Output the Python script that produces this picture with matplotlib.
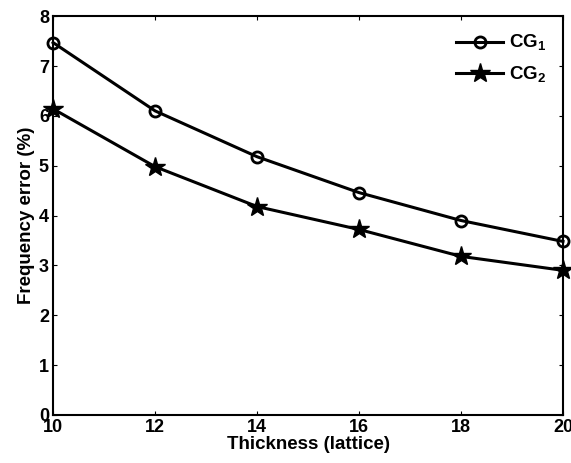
import matplotlib
matplotlib.use("Agg")
import matplotlib.pyplot as plt

plt.rcParams["font.family"] = ["Liberation Sans", "DejaVu Sans"]
plt.rcParams["font.weight"] = "bold"
plt.rcParams["mathtext.fontset"] = "custom"
plt.rcParams["mathtext.rm"] = "Liberation Sans:bold"
plt.rcParams["mathtext.bf"] = "Liberation Sans:bold"

thickness = [10, 12, 14, 16, 18, 20]
cg1_err = [7.47, 6.10, 5.18, 4.46, 3.90, 3.48]
cg2_err = [6.14, 4.98, 4.18, 3.72, 3.18, 2.90]

fig = plt.figure(figsize=(5.71, 4.63), dpi=100)
ax = fig.add_axes([0.093, 0.104, 0.893, 0.861])

ax.plot(thickness, cg1_err, color="black", lw=2.2, marker="o", ms=8,
        mfc="none", mew=2.0, label=r"CG$_\mathbf{1}$", clip_on=False)
ax.plot(thickness, cg2_err, color="black", lw=2.2, marker="*", ms=15,
        mfc="black", label=r"CG$_\mathbf{2}$", clip_on=False)

ax.set_xlim(10, 20)
ax.set_ylim(0, 8)
ax.set_xticks(thickness)
ax.set_yticks(range(0, 9))
ax.tick_params(direction="in", length=3, top=True, right=True,
               labelsize=13, pad=3)
for lab in ax.get_xticklabels() + ax.get_yticklabels():
    lab.set_fontweight("bold")
for sp in ax.spines.values():
    sp.set_linewidth(1.5)

ax.set_xlabel("Thickness (lattice)", fontsize=13.5, fontweight="bold", labelpad=0)
ax.set_ylabel("Frequency error (%)", fontsize=13.5, fontweight="bold", labelpad=3)

leg = ax.legend(loc="upper right", frameon=False, fontsize=13.5,
                handlelength=2.5, handletextpad=0.3, borderaxespad=0.5,
                labelspacing=0.6)

fig.savefig("out.png", dpi=100)
